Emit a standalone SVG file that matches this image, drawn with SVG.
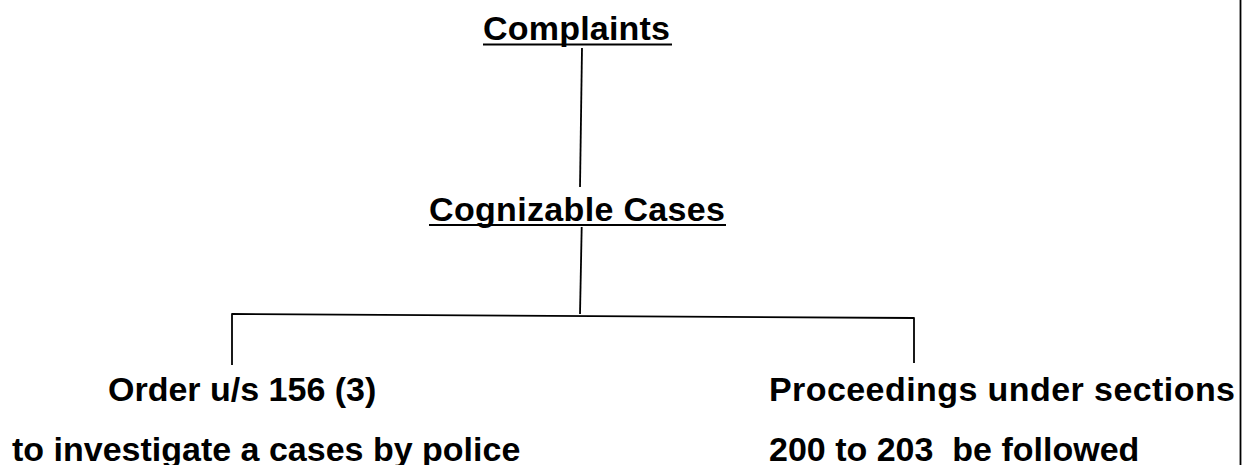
<svg xmlns="http://www.w3.org/2000/svg" width="1253" height="465" viewBox="0 0 1253 465">
  <style>
    .t { font-family: "Liberation Sans", Arial, sans-serif; font-weight: bold; font-size: 34px; fill: #000; white-space: pre; }
    .ul { stroke: #000; stroke-width: 2.2; }
    .c { stroke: #000; stroke-width: 1.8; fill: none; }
  </style>
  <rect width="1253" height="465" fill="#fff"/>
  <g id="connectors">
    <line class="c" x1="582" y1="48" x2="580" y2="187"/>
    <line class="c" x1="581.7" y1="227" x2="580" y2="314"/>
    <line class="c" x1="232" y1="314" x2="914" y2="318"/>
    <line class="c" x1="232" y1="313.2" x2="232" y2="365"/>
    <line class="c" x1="914" y1="317.2" x2="914" y2="363"/>
  </g>
  <g id="complaints">
    <text class="t" x="483" y="40" textLength="187">Complaints</text>
    <line class="ul" x1="483" y1="44.5" x2="672" y2="44.5"/>
  </g>
  <g id="cognizable">
    <text class="t" x="429" y="220.5" textLength="296">Cognizable Cases</text>
    <line class="ul" x1="429" y1="225" x2="726" y2="225"/>
  </g>
  <g id="order">
    <text class="t" x="108" y="401">Order u/s 156 (3)</text>
    <text class="t" x="12" y="461">to investigate a cases by police</text>
  </g>
  <g id="proceedings">
    <text class="t" x="769" y="401" textLength="466">Proceedings under sections</text>
    <text class="t" x="769" y="461" xml:space="preserve">200 to 203  be followed</text>
  </g>
  <g id="border">
    <line class="c" x1="1240.5" y1="0" x2="1240.5" y2="465" stroke-width="1.5"/>
  </g>
</svg>
